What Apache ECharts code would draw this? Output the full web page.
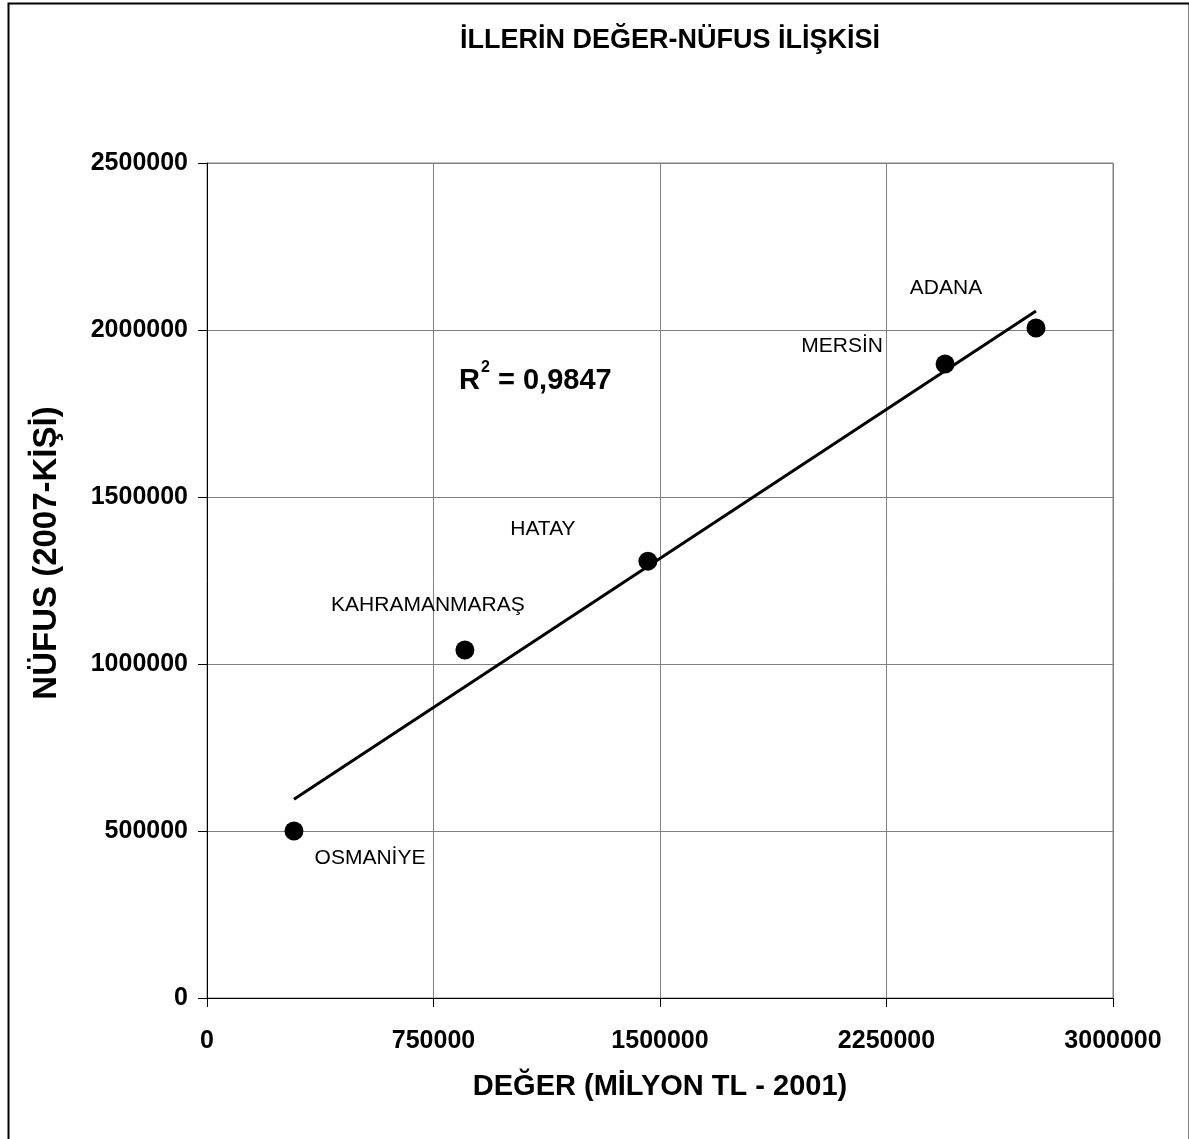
<!DOCTYPE html>
<html><head><meta charset="utf-8">
<script src="https://cdn.jsdelivr.net/npm/echarts@6/dist/echarts.min.js"></script>
<style>html,body{margin:0;padding:0;background:#fff}#c{width:1189px;height:1139px}</style>
</head><body><div id="c"></div>
<script>
var provinces = ['OSMANİYE', 'KAHRAMANMARAŞ', 'HATAY', 'MERSİN', 'ADANA'];
var values = [288000, 854000, 1460000, 2444000, 2745000];      // DEĞER (milyon TL - 2001)
var population = [500000, 1042000, 1308000, 1898000, 2006000]; // NÜFUS (2007)
var xTicks = [0, 750000, 1500000, 2250000, 3000000];
var yTicks = [0, 500000, 1000000, 1500000, 2000000, 2500000];
var r2Text = '0,9847';

// label offsets (pixels) relative to each point
var labelOffsets = [[76, 27], [-37, -45], [-105, -32], [-103, -18], [-90, -40]];

// least-squares trend line
var n = values.length, mx = 0, my = 0;
for (var i = 0; i < n; i++) { mx += values[i]; my += population[i]; }
mx /= n; my /= n;
var sxy = 0, sxx = 0;
for (var i = 0; i < n; i++) { sxy += (values[i] - mx) * (population[i] - my); sxx += (values[i] - mx) * (values[i] - mx); }
var slope = sxy / sxx, icpt = my - slope * mx;
var xmin = Math.min.apply(null, values), xmax = Math.max.apply(null, values);
var trend = [[xmin, icpt + slope * xmin], [xmax, icpt + slope * xmax]];

var FONT = '"Liberation Sans", Arial, Helvetica, sans-serif';
var pts = values.map(function (v, i) {
  return { value: [v, population[i]], name: provinces[i],
    label: { show: true, position: 'inside', offset: labelOffsets[i], formatter: provinces[i] } };
});
function plain(v) { return String(v); }

var chart = echarts.init(document.getElementById('c'), null, { renderer: 'canvas' });
chart.setOption({
  animation: false,
  backgroundColor: '#fff',
  title: { text: 'İLLERİN DEĞER-NÜFUS İLİŞKİSİ', left: 665, top: 22, textAlign: 'center',
    textStyle: { fontFamily: FONT, fontSize: 27, fontWeight: 'bold', color: '#000' } },
  grid: { left: 207, right: 76, top: 163, bottom: 141, show: true, borderColor: '#808080', borderWidth: 1 },
  xAxis: { type: 'value', min: xTicks[0], max: xTicks[xTicks.length - 1], interval: xTicks[1] - xTicks[0],
    axisLine: { show: true, onZero: false, lineStyle: { color: '#000', width: 1 } },
    axisTick: { show: true, length: 9, lineStyle: { color: '#000' } },
    axisLabel: { margin: 31, color: '#000', fontFamily: FONT, fontSize: 25, fontWeight: 'bold', formatter: plain },
    splitLine: { show: true, lineStyle: { color: '#808080', width: 1 } },
    name: 'DEĞER (MİLYON TL - 2001)', nameLocation: 'middle', nameGap: 74,
    nameTextStyle: { color: '#000', fontFamily: FONT, fontSize: 29, fontWeight: 'bold' } },
  yAxis: { type: 'value', min: yTicks[0], max: yTicks[yTicks.length - 1], interval: yTicks[1] - yTicks[0],
    axisLine: { show: true, onZero: false, lineStyle: { color: '#000', width: 1 } },
    axisTick: { show: true, length: 9, lineStyle: { color: '#000' } },
    axisLabel: { margin: 19, color: '#000', fontFamily: FONT, fontSize: 25, fontWeight: 'bold', formatter: plain },
    splitLine: { show: true, lineStyle: { color: '#808080', width: 1 } } },
  graphic: [
    { type: 'rect', left: 6, top: 1, shape: { width: 1181, height: 1150 }, silent: true,
      style: { fill: 'none', stroke: '#000', lineWidth: 2 } },
    { type: 'text', x: 47, y: 553, rotation: Math.PI / 2, silent: true,
      style: { text: 'NÜFUS (2007-KİŞİ)', fontFamily: FONT, fontSize: 33, fontWeight: 'bold', fill: '#000',
        textAlign: 'center', textVerticalAlign: 'middle' } },
    { type: 'text', x: 459, y: 381, silent: true,
      style: { text: 'R', fontFamily: FONT, fontSize: 29, fontWeight: 'bold', fill: '#000', textVerticalAlign: 'middle' } },
    { type: 'text', x: 481, y: 368, silent: true,
      style: { text: '2', fontFamily: FONT, fontSize: 16, fontWeight: 'bold', fill: '#000', textVerticalAlign: 'middle' } },
    { type: 'text', x: 498, y: 381, silent: true,
      style: { text: '= ' + r2Text, fontFamily: FONT, fontSize: 29, fontWeight: 'bold', fill: '#000', textVerticalAlign: 'middle' } }
  ],
  series: [
    { type: 'line', data: trend, symbol: 'none', silent: true, z: 3,
      lineStyle: { color: '#000', width: 3 } },
    { type: 'scatter', data: pts, symbol: 'circle', symbolSize: 19, z: 4,
      itemStyle: { color: '#000', opacity: 1 },
      label: { color: '#000', fontFamily: FONT, fontSize: 21, fontWeight: 'normal' } }
  ]
});
</script></body></html>
